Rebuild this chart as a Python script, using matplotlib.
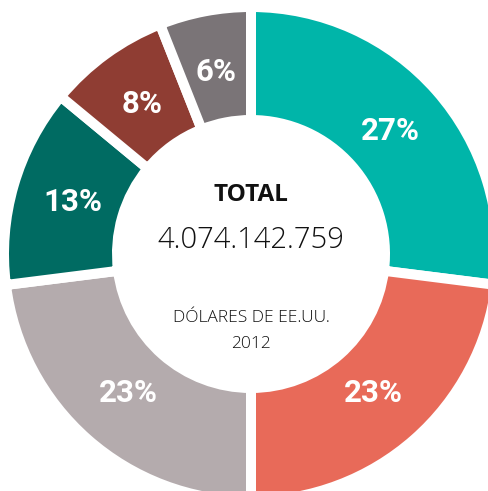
import matplotlib.pyplot as plt

# datos del grafico
shares = [27, 23, 23, 13, 8, 6]
colors = ['#00B5A9', '#E86A59', '#B4ABAD', '#006B62', '#8F3D33', '#7A7477']
total_label = '4.074.142.759'
unit_label = 'DÓLARES DE EE.UU.'
year_label = '2012'

fig = plt.figure(figsize=(4.89, 4.91), dpi=100)
ax = fig.add_axes([0, 0, 1, 1])
ax.axis('off')

cx, cy = 251, 491 - 254
wedges, texts, autotexts = ax.pie(
    shares, colors=colors, startangle=90, counterclock=False,
    center=(cx, cy), radius=247,
    autopct=lambda p: f'{p:.0f}%', pctdistance=0.75,
    wedgeprops=dict(width=113, edgecolor='white', linewidth=7.2),
    textprops=dict(color='white', fontsize=22.5, fontweight='bold', family='Roboto'))
ax.set_xlim(0, 489)
ax.set_ylim(0, 491)
ax.set_aspect('equal')

ax.text(cx, 491 - 195, 'TOTAL', ha='center', va='center', fontsize=17.5,
        fontweight='bold', family='Open Sans', color='#111111')
ax.text(cx, 491 - 240, total_label, ha='center', va='center', fontsize=21,
        fontweight='light', family='Open Sans', color='#111111')
ax.text(cx, 491 - 318, unit_label, ha='center', va='center', fontsize=12.5,
        fontweight='light', family='Open Sans', color='#111111')
ax.text(cx, 491 - 344, year_label, ha='center', va='center', fontsize=12.5,
        fontweight='light', family='Open Sans', color='#111111')

fig.savefig('out.png', dpi=100)
